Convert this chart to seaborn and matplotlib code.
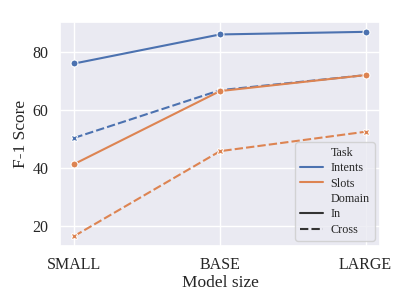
import pandas as pd
import matplotlib
matplotlib.use('Agg')
import matplotlib.pyplot as plt
import seaborn as sns

# values
sizes = ['SMALL', 'BASE', 'LARGE']
intents_in = [76.0, 86.0, 86.9]
intents_cross = [50.4, 66.8, 72.0]
slots_in = [41.4, 66.5, 72.0]
slots_cross = [16.6, 45.8, 52.5]

rows = []
for task, domain, vals in [('Intents', 'In', intents_in),
                           ('Intents', 'Cross', intents_cross),
                           ('Slots', 'In', slots_in),
                           ('Slots', 'Cross', slots_cross)]:
    for s, v in zip(sizes, vals):
        rows.append({'Model size': s, 'F-1 Score': v, 'Task': task, 'Domain': domain})
df = pd.DataFrame(rows)

sns.set_theme(style='darkgrid', palette='deep')
plt.rcParams['font.family'] = ['Liberation Serif', 'DejaVu Serif']

fig = plt.figure(figsize=(4.07, 3.05), dpi=100)
ax = fig.add_axes([0.147, 0.193, 0.787, 0.735])

sns.lineplot(data=df, x='Model size', y='F-1 Score', hue='Task', style='Domain',
             markers=['o', 'X'], markersize=5, linewidth=1.5, ax=ax, sort=False)

ax.set_ylim(13.1, 90.3)
ax.set_yticks([20, 40, 60, 80])
ax.tick_params(labelsize=11.5, pad=2)
ax.set_xlabel('Model size', fontsize=12.5, labelpad=1)
ax.set_ylabel('F-1 Score', fontsize=12.5, labelpad=3)
leg = ax.legend(loc='lower right', fontsize=8.7, borderaxespad=0.45, handlelength=1.9,
                handletextpad=0.65, labelspacing=0.28)
# legend keys show only the line, no marker
for h in leg.get_lines():
    h.set_marker('')

fig.savefig('out.png', dpi=100)
